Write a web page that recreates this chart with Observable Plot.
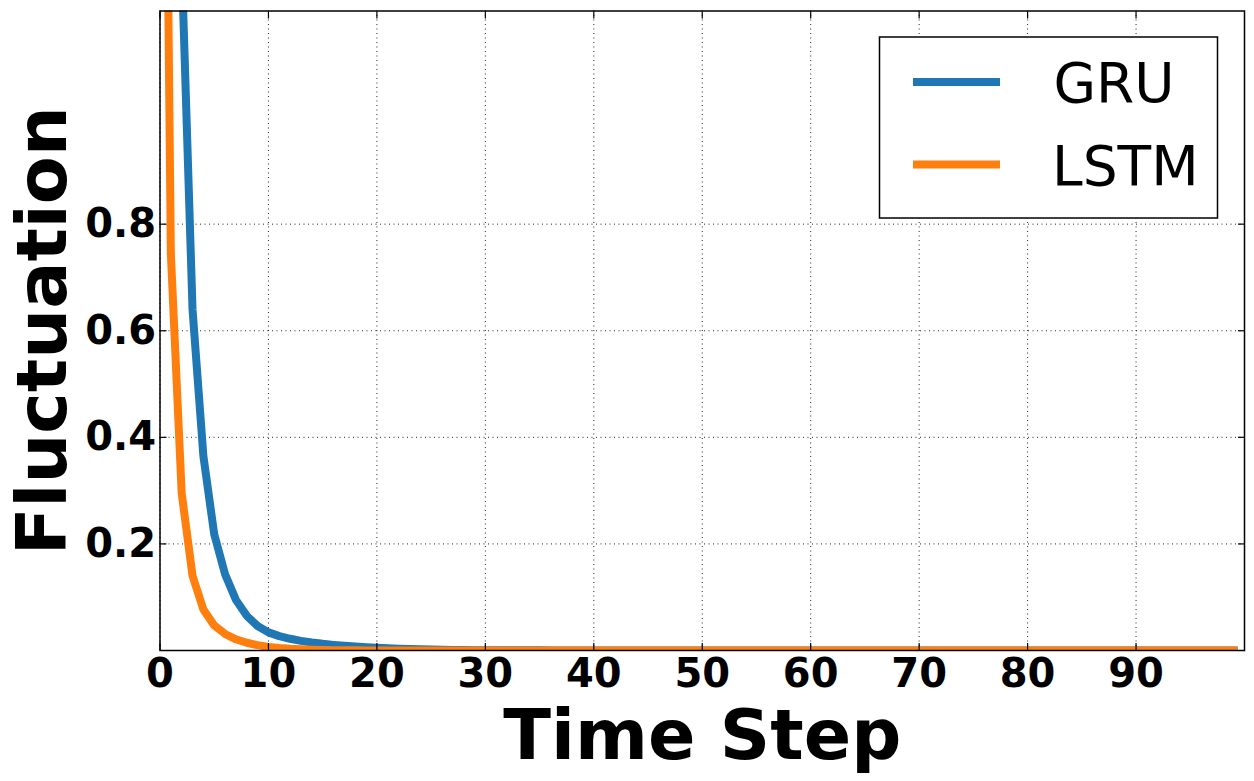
<!DOCTYPE html>
<html>
<head>
<meta charset="utf-8">
<script src="https://cdn.jsdelivr.net/npm/d3@7"></script>
<script src="https://cdn.jsdelivr.net/npm/@observablehq/plot@0.6"></script>
<style>
  html, body { margin: 0; padding: 0; background: #fff; }
  #chart { width: 1254px; height: 781px; }
</style>
</head>
<body>
<div id="chart"></div>
<script>
// ---- data ----
const steps = [0,1,2,3,4,5,6,7,8,9,10,11,12,13,14,15,16,17,18,19,20,21,22,23,24,25,26,27,28,29,30,31,32,33,34,35,36,37,38,39,40,41,42,43,44,45,46,47,48,49,50,51,52,53,54,55,56,57,58,59,60,61,62,63,64,65,66,67,68,69,70,71,72,73,74,75,76,77,78,79,80,81,82,83,84,85,86,87,88,89,90,91,92,93,94,95,96,97,98,99];
const gru = [3.2,2.1,1.29,0.64,0.365,0.218,0.143,0.095,0.065,0.046,0.034,0.027,0.022,0.018,0.015,0.0125,0.0105,0.0088,0.0074,0.0062,0.0052,0.0043,0.0035,0.0028,0.0022,0.0017,0.0013,0.001,0.0008,0.0006,0.0005,0.0004,0.0004,0.0003,0.0003,0.0003,0.0002,0.0002,0.0002,0.0002,0.0001,0.0001,0.0001,0.0001,0.0001,0.0001,0.0001,0.0001,0.0001,0.0001,0,0,0,0,0,0,0,0,0,0,0,0,0,0,0,0,0,0,0,0,0,0,0,0,0,0,0,0,0,0,0,0,0,0,0,0,0,0,0,0,0,0,0,0,0,0,0,0,0,0];
const lstm = [2.75,0.745,0.295,0.14,0.077,0.047,0.031,0.021,0.0145,0.01,0.0068,0.0047,0.0032,0.0022,0.0015,0.001,0.0007,0.0005,0.0003,0.0002,0.0001,0,0,0,0,0,0,0,0,0,0,0,0,0,0,0,0,0,0,0,0,0,0,0,0,0,0,0,0,0,0,0,0,0,0,0,0,0,0,0,0,0,0,0,0,0,0,0,0,0,0,0,0,0,0,0,0,0,0,0,0,0,0,0,0,0,0,0,0,0,0,0,0,0,0,0,0,0,0,0];
const seriesNames = ["GRU", "LSTM"];
const seriesColors = ["#1f77b4", "#ff7f0e"];
const xTicks = [0,10,20,30,40,50,60,70,80,90];
const yTicks = [0.2,0.4,0.6,0.8];
const xTitle = "Time Step";
const yTitle = "Fluctuation";

const rows = steps.map((t, i) => ({t, gru: gru[i], lstm: lstm[i]}));

const font = "DejaVu Sans";
const gridStyle = {stroke: "#000", strokeOpacity: 0.85, strokeWidth: 1, strokeDasharray: "1,3.5"};
const chart = Plot.plot({
  width: 1254,
  height: 781,
  marginLeft: 159.5,
  marginRight: 10,
  marginTop: 10.5,
  marginBottom: 131,
  x: {domain: [0, 100], label: null},
  y: {domain: [0, 1.2], label: null},
  style: {fontFamily: font, background: "#fff", color: "#000", overflow: "visible"},
  marks: [
    Plot.gridX(xTicks, gridStyle),
    Plot.gridY(yTicks, gridStyle),
    Plot.line(rows, {x: "t", y: "gru", stroke: seriesColors[0], strokeWidth: 8, strokeLinecap: "square", strokeLinejoin: "round", clip: true}),
    Plot.line(rows, {x: "t", y: "lstm", stroke: seriesColors[1], strokeWidth: 8, strokeLinecap: "square", strokeLinejoin: "round", clip: true}),
    // inward ticks on all four sides
    Plot.axisX(xTicks, {anchor: "bottom", tickSize: 7, dy: -7, tickFormat: () => "", strokeWidth: 1.2}),
    Plot.axisX(xTicks, {anchor: "top", tickSize: 7, dy: 7, tickFormat: () => "", strokeWidth: 1.2}),
    Plot.axisY(yTicks, {anchor: "left", tickSize: 7, dx: 7, tickFormat: () => "", strokeWidth: 1.2}),
    Plot.axisY(yTicks, {anchor: "right", tickSize: 7, dx: -7, tickFormat: () => "", strokeWidth: 1.2}),
    // tick labels
    Plot.axisX(xTicks, {anchor: "bottom", tickSize: 0, tickPadding: 8, fontSize: 40, fontWeight: "bold", fontFamily: font}),
    Plot.axisY(yTicks, {anchor: "left", tickSize: 0, tickPadding: 4, fontSize: 40, fontWeight: "bold", fontFamily: font, tickFormat: d => d.toFixed(1)}),
    Plot.frame({stroke: "#000", strokeWidth: 1.5}),
    // axis titles
    Plot.text([xTitle], {text: d => d, frameAnchor: "bottom", dy: 108, lineAnchor: "bottom", textAnchor: "middle", fontSize: 70, fontWeight: "bold", fontFamily: font, fill: "#000"}),
    Plot.text([yTitle], {text: d => d, frameAnchor: "left", dx: -94, rotate: -90, lineAnchor: "bottom", textAnchor: "middle", fontSize: 70, fontWeight: "bold", fontFamily: font, fill: "#000"})
  ]
});

// legend
const svg = d3.select(chart);
const lg = svg.append("g").attr("class", "legend").attr("text-anchor", "start");
lg.append("rect").attr("x", 879.5).attr("y", 37).attr("width", 338).attr("height", 181)
  .attr("fill", "#fff").attr("stroke", "#000").attr("stroke-width", 1.5);
seriesNames.forEach((name, i) => {
  const cy = 82 + i * 82.5;
  lg.append("line").attr("x1", 913).attr("x2", 1000).attr("y1", cy).attr("y2", cy)
    .attr("stroke", seriesColors[i]).attr("stroke-width", 8);
  lg.append("text").attr("x", i === 0 ? 1053.5 : 1052).attr("y", cy + 20)
    .attr("text-anchor", "start")
    .attr("font-family", font).attr("font-size", 55).attr("fill", "#000").text(name);
});

document.getElementById("chart").appendChild(chart);
</script>
</body>
</html>
